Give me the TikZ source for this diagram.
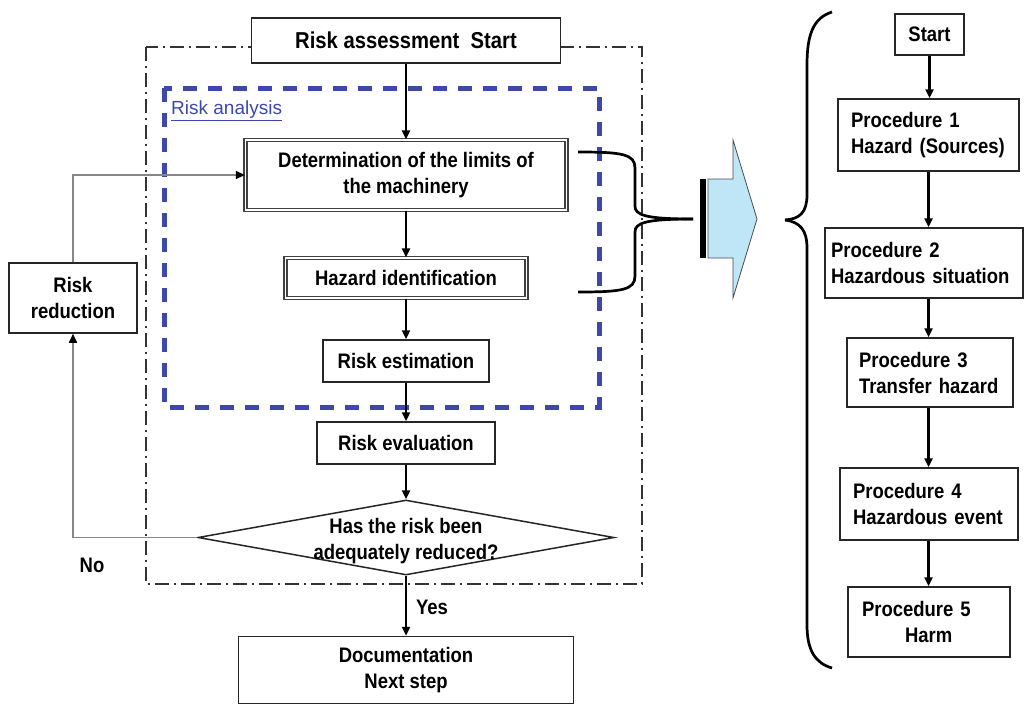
\documentclass[tikz,border=0pt]{standalone}
\usepackage{fontspec}
\setmainfont{Liberation Sans}[FakeStretch=0.88]
\newfontfamily\plainfont{Liberation Sans}
\usetikzlibrary{shapes.geometric,arrows.meta}
\definecolor{dashblue}{RGB}{62,72,172}
\definecolor{arrowfill}{RGB}{190,230,246}
\definecolor{fbgray}{RGB}{135,135,135}
\begin{document}
\begin{tikzpicture}[x=1pt,y=-1pt,
  every node/.style={font=\bfseries\fontsize{21}{26}\selectfont, inner sep=0pt, align=center},
  box/.style={draw=black!85, line width=1.5pt, fill=white},
  dbox/.style={draw=black!75, line width=1.3pt, double=white, double distance=1.6pt, fill=white},
  pbox/.style={box, align=left},
  flow/.style={draw=black, line width=2.3pt, -{Triangle[length=9pt,width=8pt]}},
  fb/.style={draw=fbgray, line width=1.6pt, -{Triangle[length=9pt,width=8pt,color=black]}},
  brace/.style={draw=black, line width=2.7pt},
  ]
\useasboundingbox (0,0) rectangle (1026,704);
% frames
\draw[black!80, line width=1.7pt, dash pattern=on 14pt off 5pt on 2pt off 5pt] (146,47) rectangle (642,584);
\draw[dashblue, line width=5pt, dash pattern=on 14pt off 11pt] (164,88) rectangle (599,407);
\node[anchor=west, text=dashblue, font=\plainfont\fontsize{19}{22}\selectfont] (ralabel) at (171,111) {\underline{Risk analysis}};
% left column
\node[box, minimum width=309pt, minimum height=45pt, font=\bfseries\fontsize{23}{26}\selectfont] (ras) at (406,40.5) {Risk assessment~~Start};
\node[dbox, minimum width=321pt, minimum height=70pt] (det) at (406,175) {Determination of the limits of\\the machinery};
\node[dbox, minimum width=241pt, minimum height=40pt] (haz) at (406,278) {Hazard identification};
\node[box, minimum width=166pt, minimum height=42pt] (rest) at (406,361) {Risk estimation};
\node[box, minimum width=178pt, minimum height=42pt] (reval) at (406,443) {Risk evaluation};
\node[diamond, draw=black!85, line width=1.5pt, minimum width=416pt, minimum height=75pt, aspect=5.5] (dec) at (406,537.5) {};
\node (dectext) at (406,541) {Has the risk been\\adequately reduced?};
\node[box, minimum width=335pt, minimum height=67pt] (doc) at (406,670) {Documentation\\Next step};
\node[box, minimum width=128pt, minimum height=70pt] (rr) at (73,298) {Risk\\reduction};
\node (no) at (92,565) {No};
\node (yes) at (432,607) {Yes};
\draw[flow] (ras) -- (det);
\draw[flow] (det) -- (haz);
\draw[flow] (haz) -- (rest);
\draw[flow] (rest) -- (reval);
\draw[flow] (reval) -- (dec);
\draw[flow] (dec) -- (doc);
\draw[fb] (dec.west) -| (rr.south);
\draw[fb] (rr.north) |- (det.west);
% small brace
\draw[brace] (578,152) .. controls (622,152) and (635,154) .. (635,168) -- (635,206) .. controls (635,215) and (645,219) .. (693,219);
\draw[brace] (578,292) .. controls (622,292) and (635,290) .. (635,276) -- (635,232) .. controls (635,223) and (645,219) .. (693,219);
% block arrow
\fill[black] (700,179) rectangle (706,258);
\draw[fill=arrowfill, draw=black!70, line width=0.8pt] (708,179) -- (733,179) -- (733,140) -- (757,219) -- (733,298) -- (733,258) -- (708,258) -- cycle;
% big brace
\draw[brace] (832,12) .. controls (813,18) and (807,35) .. (807,65) -- (807,195) .. controls (807,212) and (800,219) .. (785,220);
\draw[brace] (785,220) .. controls (800,222) and (807,230) .. (807,248) -- (807,625) .. controls (807,650) and (815,663) .. (832,668);
% right column
\node[box, minimum width=69pt, minimum height=41pt] (st) at (929.5,34.5) {Start};
\node[pbox, text width=155pt, inner xsep=13pt, minimum height=72pt] (p1) at (928.5,135) {Procedure~1\\Hazard~(Sources)};
\node[pbox, text width=186pt, inner xsep=6pt, minimum height=70pt] (p2) at (924,263) {Procedure~2\\Hazardous~situation};
\node[pbox, text width=142pt, inner xsep=12pt, minimum height=69pt] (p3) at (930,372.5) {Procedure~3\\Transfer~hazard};
\node[pbox, text width=152pt, inner xsep=13pt, minimum height=72pt] (p4) at (929,504) {Procedure~4\\Hazardous~event};
\node[pbox, text width=134pt, inner xsep=14pt, minimum height=70pt] (p5) at (929,622) {Procedure~5\\\hspace*{43pt}Harm};
\draw[flow] (st.south) -- (st.south |- p1.north);
\draw[flow] (p1.south) -- (p1.south |- p2.north);
\draw[flow] (p2.south -| p1.south) -- (p1.south |- p3.north);
\draw[flow] (p3.south -| p1.south) -- (p1.south |- p4.north);
\draw[flow] (p4.south -| p1.south) -- (p1.south |- p5.north);
\end{tikzpicture}
\end{document}
